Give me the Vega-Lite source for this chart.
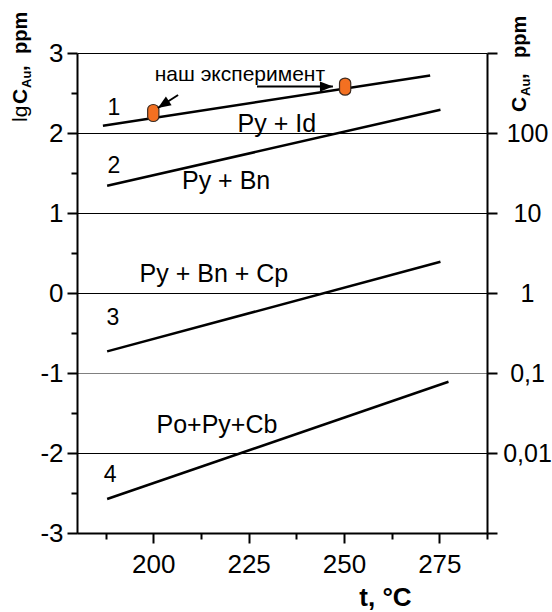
{
  "$schema": "https://vega.github.io/schema/vega-lite/v6.json",
  "width": 410,
  "height": 480,
  "autosize": {"type": "none"},
  "padding": {"left": 77, "top": 53, "right": 65, "bottom": 79},
  "background": "white",
  "config": {
    "view": {"stroke": null},
    "font": "Liberation Sans",
    "axis": {
      "domainColor": "black", "domainWidth": 2, "tickColor": "black", "tickWidth": 2,
      "labelColor": "black", "labelFont": "Liberation Sans", "labelFontSize": 26,
      "labelFlush": false, "labelOverlap": false, "labelBound": false,
      "titleFont": "Liberation Sans", "titleColor": "black", "grid": false
    }
  },
  "datasets": {
    "curves": [
      {"curve": "1", "t": 186.8, "lg": 2.09}, {"curve": "1", "t": 272.6, "lg": 2.72},
      {"curve": "2", "t": 187.9, "lg": 1.34}, {"curve": "2", "t": 275.3, "lg": 2.29},
      {"curve": "3", "t": 187.9, "lg": -0.73}, {"curve": "3", "t": 275.3, "lg": 0.39},
      {"curve": "4", "t": 187.9, "lg": -2.575}, {"curve": "4", "t": 277.4, "lg": -1.11}
    ],
    "experiment": [{"t": 200, "lg": 2.25}, {"t": 250.3, "lg": 2.58}],
    "arrows": [
      {"arrow": "a", "t": 206.5, "lg": 2.475, "t2": 201.2, "lg2": 2.3125},
      {"arrow": "b", "t": 227.2, "lg": 2.58, "t2": 247.1, "lg2": 2.58}
    ],
    "curveLabels": [
      {"text": "1", "t": 189.7, "lg": 2.225},
      {"text": "2", "t": 189.7, "lg": 1.5},
      {"text": "3", "t": 189.4, "lg": -0.4},
      {"text": "4", "t": 188.7, "lg": -2.3625}
    ],
    "phaseLabels": [
      {"text": "Py + Id", "t": 232.4, "lg": 2.0125},
      {"text": "Py + Bn", "t": 219.1, "lg": 1.3},
      {"text": "Py + Bn + Cp", "t": 215.9, "lg": 0.1375},
      {"text": "Po+Py+Cb", "t": 216.7, "lg": -1.75}
    ],
    "note": [{"text": "наш эксперимент", "t": 222.7, "lg": 2.65}],
    "anchor": [{"unit": "title"}]
  },
  "layer": [
    {
      "data": {"name": "curves"},
      "mark": {"type": "line", "stroke": "black", "strokeWidth": 2.5},
      "encoding": {
        "x": {"field": "t", "type": "quantitative", "scale": {"domain": [180, 287.5], "nice": false, "zero": false},
          "axis": {"orient": "bottom", "values": [200, 225, 250, 275], "tickSize": 10, "labelPadding": 8,
            "title": "t, °C", "titleFontSize": 26, "titleFontWeight": "bold", "titleX": 308, "titleY": 72,
            "titleAlign": "center", "titleBaseline": "alphabetic", "titleAnchor": null}},
        "y": {"field": "lg", "type": "quantitative", "scale": {"domain": [-3, 3], "nice": false, "zero": false},
          "axis": {"orient": "left", "values": [-3, -2, -1, 0, 1, 2, 3], "tickSize": 10, "labelPadding": 4,
            "labelExpr": "datum.value < 0 ? '-' + abs(datum.value) : '' + datum.value",
            "grid": true, "gridWidth": 1,
            "gridColor": {"condition": {"test": "datum.value === -1", "value": "#808080"}, "value": "black"},
            "title": null}},
        "detail": {"field": "curve"}
      }
    },
    {
      "data": {"name": "experiment"},
      "mark": {"type": "point", "shape": "M-0.66,-0.45 A0.66,0.55 0 0 1 0.66,-0.45 L0.66,0.45 A0.66,0.55 0 0 1 -0.66,0.45 Z",
        "filled": true, "fill": "#f37021", "stroke": "#3a2a20", "strokeWidth": 1.2, "size": 289, "opacity": 1},
      "encoding": {
        "x": {"field": "t", "type": "quantitative",
          "axis": {"orient": "bottom", "values": [187.5, 212.5, 237.5, 262.5, 287.5], "tickSize": 6, "labels": false, "domain": false, "title": null}},
        "y": {"field": "lg", "type": "quantitative",
          "axis": {"orient": "left", "values": [-2.5, -1.5, -0.5, 0.5, 1.5, 2.5], "tickSize": 6, "labels": false, "domain": false, "title": null}}
      }
    },
    {
      "data": {"name": "arrows"},
      "mark": {"type": "rule", "stroke": "black", "strokeWidth": 2},
      "encoding": {
        "x": {"field": "t", "type": "quantitative", "axis": null},
        "y": {"field": "lg", "type": "quantitative",
          "axis": {"orient": "right", "values": [-3, -2, -1, 0, 1, 2, 3], "tickSize": 10, "labelPadding": 30, "labelAlign": "center", "labelFontSize": 25,
            "labelExpr": "datum.value === 2 ? '100' : datum.value === 1 ? '10' : datum.value === 0 ? '1' : datum.value === -1 ? '0,1' : datum.value === -2 ? '0,01' : ''",
            "title": null}},
        "x2": {"field": "t2"},
        "y2": {"field": "lg2"}
      }
    },
    {
      "data": {"name": "arrows"},
      "transform": [{"filter": "datum.arrow === 'a'"}],
      "mark": {"type": "point", "shape": "M0,0 L-2,-0.8 L-2,0.8 Z", "filled": true, "fill": "black", "stroke": null, "size": 169, "angle": 147, "opacity": 1},
      "encoding": {
        "x": {"field": "t2", "type": "quantitative", "axis": null},
        "y": {"field": "lg2", "type": "quantitative", "axis": null}
      }
    },
    {
      "data": {"name": "arrows"},
      "transform": [{"filter": "datum.arrow === 'b'"}],
      "mark": {"type": "point", "shape": "M0,0 L-2,-0.8 L-2,0.8 Z", "filled": true, "fill": "black", "stroke": null, "size": 169, "angle": 0, "opacity": 1},
      "encoding": {
        "x": {"field": "t2", "type": "quantitative", "axis": null},
        "y": {"field": "lg2", "type": "quantitative", "axis": null}
      }
    },
    {
      "data": {"name": "curveLabels"},
      "mark": {"type": "text", "fontSize": 23, "font": "Liberation Sans", "color": "black", "align": "center", "baseline": "alphabetic"},
      "encoding": {
        "x": {"field": "t", "type": "quantitative", "axis": null},
        "y": {"field": "lg", "type": "quantitative", "axis": null},
        "text": {"field": "text"}
      }
    },
    {
      "data": {"name": "phaseLabels"},
      "mark": {"type": "text", "fontSize": 25, "font": "Liberation Sans", "color": "black", "align": "center", "baseline": "alphabetic"},
      "encoding": {
        "x": {"field": "t", "type": "quantitative", "axis": null},
        "y": {"field": "lg", "type": "quantitative", "axis": null},
        "text": {"field": "text"}
      }
    },
    {
      "data": {"name": "note"},
      "mark": {"type": "text", "fontSize": 21, "font": "Liberation Sans", "color": "black", "align": "center", "baseline": "alphabetic"},
      "encoding": {
        "x": {"field": "t", "type": "quantitative", "axis": null},
        "y": {"field": "lg", "type": "quantitative", "axis": null},
        "text": {"field": "text"}
      }
    },
    {
      "data": {"name": "anchor"},
      "mark": {"type": "text", "text": "lg", "angle": -90, "align": "left", "baseline": "alphabetic", "fontSize": 21, "font": "Liberation Sans", "color": "black", "dx": 0},
      "encoding": {"x": {"datum": 166.9, "type": "quantitative", "axis": null}, "y": {"datum": 2.1375, "type": "quantitative", "axis": null}}
    },
    {
      "data": {"name": "anchor"},
      "mark": {"type": "text", "text": "C", "angle": -90, "align": "left", "baseline": "alphabetic", "fontSize": 21, "fontWeight": "bold", "font": "Liberation Sans", "color": "black", "dx": 18},
      "encoding": {"x": {"datum": 166.9, "type": "quantitative", "axis": null}, "y": {"datum": 2.1375, "type": "quantitative", "axis": null}}
    },
    {
      "data": {"name": "anchor"},
      "mark": {"type": "text", "text": "Au", "angle": -90, "align": "left", "baseline": "alphabetic", "fontSize": 13, "fontWeight": "bold", "font": "Liberation Sans", "color": "black", "dx": 34, "dy": 4},
      "encoding": {"x": {"datum": 166.9, "type": "quantitative", "axis": null}, "y": {"datum": 2.1375, "type": "quantitative", "axis": null}}
    },
    {
      "data": {"name": "anchor"},
      "mark": {"type": "text", "text": ",", "angle": -90, "align": "left", "baseline": "alphabetic", "fontSize": 20, "fontWeight": "bold", "font": "Liberation Sans", "color": "black", "dx": 51},
      "encoding": {"x": {"datum": 166.9, "type": "quantitative", "axis": null}, "y": {"datum": 2.1375, "type": "quantitative", "axis": null}}
    },
    {
      "data": {"name": "anchor"},
      "mark": {"type": "text", "text": "ppm", "angle": -90, "align": "left", "baseline": "alphabetic", "fontSize": 20, "fontWeight": "bold", "font": "Liberation Sans", "color": "black", "dx": 68},
      "encoding": {"x": {"datum": 166.9, "type": "quantitative", "axis": null}, "y": {"datum": 2.1375, "type": "quantitative", "axis": null}}
    },
    {
      "data": {"name": "anchor"},
      "mark": {"type": "text", "text": "C", "angle": -90, "align": "left", "baseline": "alphabetic", "fontSize": 21, "fontWeight": "bold", "font": "Liberation Sans", "color": "black", "dx": 0},
      "encoding": {"x": {"datum": 297.7, "type": "quantitative", "axis": null}, "y": {"datum": 2.2625, "type": "quantitative", "axis": null}}
    },
    {
      "data": {"name": "anchor"},
      "mark": {"type": "text", "text": "Au", "angle": -90, "align": "left", "baseline": "alphabetic", "fontSize": 13, "fontWeight": "bold", "font": "Liberation Sans", "color": "black", "dx": 16, "dy": 4},
      "encoding": {"x": {"datum": 297.7, "type": "quantitative", "axis": null}, "y": {"datum": 2.2625, "type": "quantitative", "axis": null}}
    },
    {
      "data": {"name": "anchor"},
      "mark": {"type": "text", "text": ",", "angle": -90, "align": "left", "baseline": "alphabetic", "fontSize": 20, "fontWeight": "bold", "font": "Liberation Sans", "color": "black", "dx": 33},
      "encoding": {"x": {"datum": 297.7, "type": "quantitative", "axis": null}, "y": {"datum": 2.2625, "type": "quantitative", "axis": null}}
    },
    {
      "data": {"name": "anchor"},
      "mark": {"type": "text", "text": "ppm", "angle": -90, "align": "left", "baseline": "alphabetic", "fontSize": 20, "fontWeight": "bold", "font": "Liberation Sans", "color": "black", "dx": 54},
      "encoding": {"x": {"datum": 297.7, "type": "quantitative", "axis": null}, "y": {"datum": 2.2625, "type": "quantitative", "axis": null}}
    }
  ],
  "resolve": {"axis": {"x": "independent", "y": "independent"}}
}
